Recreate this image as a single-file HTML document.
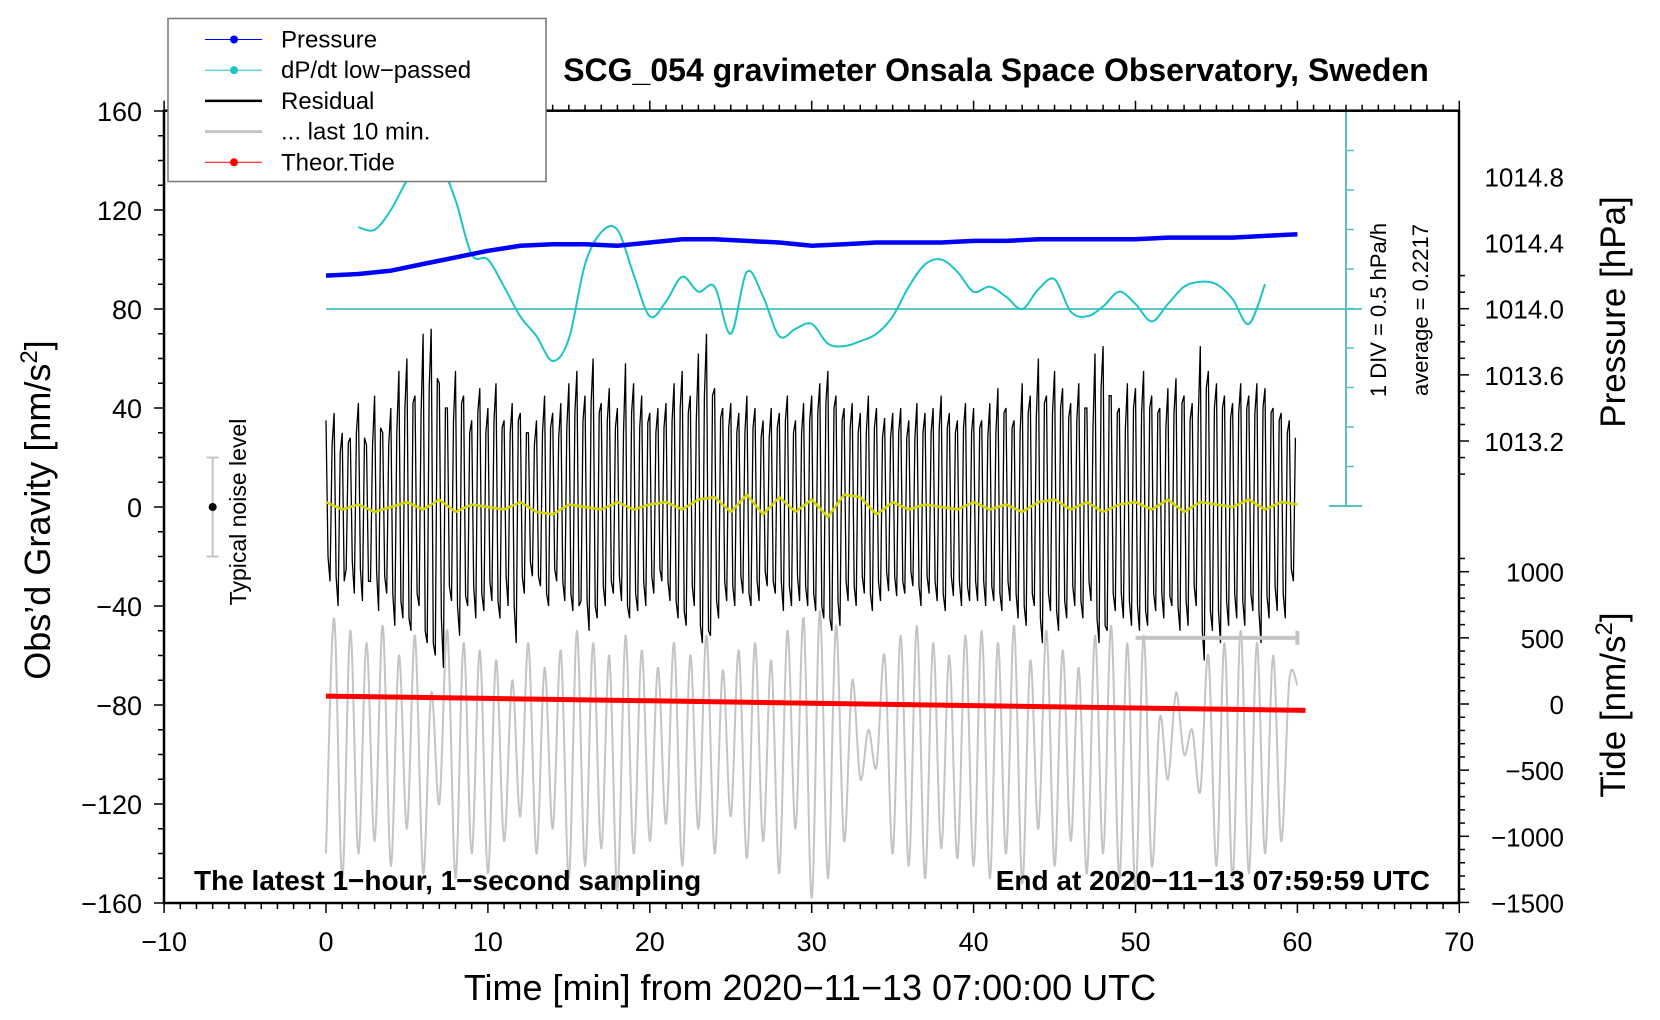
<!DOCTYPE html>
<html><head><meta charset="utf-8">
<style>
html,body{margin:0;padding:0;background:#fff;}
svg{display:block;font-family:"Liberation Sans",sans-serif;}
</style></head>
<body>
<svg id="chart" width="1660" height="1020" viewBox="0 0 1660 1020" xmlns="http://www.w3.org/2000/svg">
<rect width="1660" height="1020" fill="#fff"/>
<g id="marks"></g>
<g id="axes"></g>
</svg>
<script>
// ---- data ----
const xTicks = [-10,0,10,20,30,40,50,60,70];
const yTicks = [160,120,80,40,0,-40,-80,-120,-160];
const pressureTicks = [1014.8,1014.4,1014.0,1013.6,1013.2];
const tideTicks = [1000,500,0,-500,-1000,-1500];
// residual, every 0.25 min, nm/s^2
const residual = [35,-30,38,-40,30,-25,28,-35,42,-38,25,-30,45,-42,30,-35,40,-48,55,-45,
60,-50,45,-40,70,-55,72,-60,50,-65,40,-38,55,-52,45,-40,35,-45,48,-42,
40,-38,50,-45,35,-40,42,-55,38,-35,30,-28,35,-32,45,-40,38,-30,42,-38,
50,-42,55,-38,45,-50,60,-45,42,-40,48,-35,40,-38,58,-45,50,-42,45,-40,
38,-35,40,-30,42,-38,50,-45,55,-48,45,-40,62,-55,70,-52,48,-45,40,-38,
42,-40,38,-35,45,-40,40,-38,35,-32,40,-35,38,-42,45,-40,35,-38,42,-40,
45,-42,50,-45,55,-50,45,-48,40,-38,42,-40,38,-35,45,-42,40,-38,36,-34,
38,-36,40,-35,35,-32,42,-40,38,-35,40,-38,45,-42,38,-36,35,-40,42,-38,
40,-38,35,-40,42,-38,48,-42,40,-38,35,-45,50,-48,45,-40,60,-55,45,-42,
55,-50,48,-45,42,-40,50,-45,40,-38,62,-55,65,-50,45,-42,40,-45,50,-48,
48,-50,55,-48,45,-42,40,-45,48,-40,52,-50,45,-48,42,-40,65,-62,55,-50,
50,-55,45,-48,42,-45,50,-48,45,-42,50,-55,48,-45,40,-42,38,-45,35,-30];
// secondary residual samples, interleaved (offset 0.125 min)
const residualB = [-20,25,-28,22,-30,26,-22,30,-25,28,-30,24,-26,32,-28,25,-35,30,-38,40,
-45,42,-35,38,-50,48,-55,52,-45,40,-32,35,-40,42,-36,30,-32,38,-35,30,
-30,35,-38,32,-28,30,-40,35,-28,30,-22,25,-28,30,-35,32,-25,28,-30,32,
-35,38,-40,35,-38,42,-40,38,-32,35,-30,32,-28,30,-40,38,-35,32,-30,34,
-28,30,-25,32,-30,35,-38,40,-42,38,-32,35,-48,45,-50,45,-38,36,-30,32,
-32,30,-28,30,-35,32,-30,28,-26,28,-30,32,-30,35,-32,30,-28,30,-32,35,
-35,38,-40,42,-45,40,-38,35,-30,32,-32,30,-28,30,-35,32,-30,28,-26,28,
-28,30,-30,28,-26,28,-32,30,-28,30,-30,32,-35,32,-28,30,-30,32,-32,30,
-30,32,-30,28,-32,30,-35,38,-30,32,-35,30,-40,38,-35,36,-45,42,-35,38,
-42,40,-38,36,-32,35,-38,40,-30,32,-45,48,-48,45,-35,38,-35,32,-38,40,
-40,38,-42,40,-35,38,-35,32,-36,38,-40,42,-38,35,-32,35,-50,48,-42,40,
-42,40,-38,36,-35,38,-38,40,-35,38,-42,40,-36,38,-32,35,-35,30,-25,28];
// low-passed residual (yellow), every 1 min
const smoothRes = [2,-1,1,-2,0,2,-1,3,-2,1,0,-1,2,-2,-3,1,0,-1,2,-1,1,2,-1,3,4,-2,5,-3,4,-2,3,-4,5,4,-3,2,-1,1,0,-1,2,-1,1,-2,2,3,-1,2,-2,1,2,-1,3,-2,2,1,0,3,-1,2,1];
// last-10-min trace (gray), every 0.5 min
const lastTen = [-140,-45,-150,-50,-140,-55,-135,-48,-145,-60,-130,-52,-148,-75,-120,-50,-150,-55,-140,-58,
-148,-62,-135,-70,-125,-55,-140,-65,-130,-58,-150,-50,-145,-55,-138,-60,-155,-52,-140,-58,
-135,-65,-128,-55,-145,-60,-130,-52,-140,-66,-125,-58,-142,-55,-135,-62,-148,-50,-130,-45,
-158,-42,-150,-48,-135,-70,-110,-90,-105,-60,-140,-52,-145,-48,-150,-55,-138,-60,-142,-52,
-145,-50,-150,-55,-140,-48,-152,-62,-130,-50,-145,-58,-135,-65,-148,-52,-140,-48,-150,-55,
-155,-52,-145,-85,-110,-75,-100,-90,-115,-60,-145,-55,-150,-50,-148,-55,-140,-60,-135,-70,-72];
// pressure every 2 min, hPa
const pressure = [1014.20,1014.21,1014.23,1014.27,1014.31,1014.35,1014.38,1014.39,1014.39,1014.38,1014.40,1014.42,1014.42,1014.41,1014.40,1014.38,1014.39,1014.40,1014.40,1014.40,1014.41,1014.41,1014.42,1014.42,1014.42,1014.42,1014.43,1014.43,1014.43,1014.44,1014.45];
// dP/dt low-passed, plotted on gravity scale, every 1 min from 2 min
const dpdt = [113,112,120,132,141,139,124,102,100,89,77,69,59,68,98,111,112,94,77,83,93,87,89,70,95,85,69,72,74,66,65,67,70,77,89,98,100,95,87,89,85,80,88,92,79,77,81,87,82,75,82,89,91,90,84,74,90];
// theoretical tide every 10 min, nm/s^2
const tide = [60,42,24,6,-12,-30,-48];

// ---- scales ----
const X = t => 326 + t*16.19;
const Y = g => 507 - g*2.475;
const YP = p => 308.7 - (p-1014.0)*165.4;
const YT = v => 704 - v*0.1323;
const NS = "http://www.w3.org/2000/svg";
const marks = document.getElementById('marks');
const axes = document.getElementById('axes');
function mk(tag, attrs, parent){const e=document.createElementNS(NS,tag);for(const k in attrs)e.setAttribute(k,attrs[k]);(parent||marks).appendChild(e);return e;}
function smoothPath(pts){let d='M'+pts[0][0].toFixed(1)+','+pts[0][1].toFixed(1);
 for(let i=0;i<pts.length-1;i++){const p0=pts[i-1]||pts[i],p1=pts[i],p2=pts[i+1],p3=pts[i+2]||p2;
  d+=' C'+(p1[0]+(p2[0]-p0[0])/6).toFixed(1)+','+(p1[1]+(p2[1]-p0[1])/6).toFixed(1)+' '+(p2[0]-(p3[0]-p1[0])/6).toFixed(1)+','+(p2[1]-(p3[1]-p1[1])/6).toFixed(1)+' '+p2[0].toFixed(1)+','+p2[1].toFixed(1);}
 return d;}

// gray last-10-min
let p=mk('path',{d:smoothPath(lastTen.map((v,i)=>[X(i*0.5),Y(v)])),fill:'none',stroke:'#c4c4c4','stroke-width':2});


// residual (interleave both sample sets)
const resPts=[];
residual.forEach((v,i)=>{resPts.push(X(i*0.25).toFixed(1)+','+Y(v).toFixed(1));if(i<residualB.length)resPts.push(X(i*0.25+0.125).toFixed(1)+','+Y(residualB[i]).toFixed(1));});
p=mk('polyline',{points:resPts.join(' '),fill:'none',stroke:'#000','stroke-width':1.3});


// yellow
p=mk('polyline',{points:smoothRes.map((v,i)=>X(i).toFixed(1)+','+Y(v).toFixed(1)).join(' '),fill:'none',stroke:'#d4d400','stroke-width':2.5});


// red tide
p=mk('polyline',{points:tide.map((v,i)=>X(i*10+(i==6?0.5:0)).toFixed(1)+','+YT(v).toFixed(1)).join(' '),fill:'none',stroke:'#f00','stroke-width':5});


// cyan zero line
p=mk('line',{x1:X(0),x2:1362,y1:Y(80),y2:Y(80),stroke:'#5cc8c4','stroke-width':2});


// cyan dpdt
p=mk('path',{d:smoothPath(dpdt.map((v,i)=>[X(i+2),Y(v)])),fill:'none',stroke:'#1cc4c4','stroke-width':2});


// pressure
p=mk('polyline',{points:pressure.map((v,i)=>X(i*2).toFixed(1)+','+YP(v).toFixed(1)).join(' '),fill:'none',stroke:'#0000ff','stroke-width':4.5});



// cyan dp/dt axis
mk('line',{x1:1346,x2:1346,y1:111,y2:506,stroke:'#5cc0c0','stroke-width':2},axes);
mk('line',{x1:1329,x2:1362,y1:111,y2:111,stroke:'#5cc0c0','stroke-width':2},axes);
mk('line',{x1:1329,x2:1362,y1:506,y2:506,stroke:'#5cc0c0','stroke-width':2},axes);
for(let i=1;i<10;i++){mk('line',{x1:1346,x2:1354,y1:111+i*39.5,y2:111+i*39.5,stroke:'#5cc0c0','stroke-width':1.5},axes);}

// frame
mk('rect',{x:164,y:110.7,width:1295,height:792.3,fill:'none',stroke:'#000','stroke-width':2.5},axes);
function T(x,y,s,attrs,name){const e=mk('text',Object.assign({x:x,y:y},attrs),axes);e.textContent=s;return e;}
// x ticks
for(let t=-10;t<=70;t++){const big=t%10==0;
 mk('line',{x1:X(t),x2:X(t),y1:903,y2:903+(big?10:6),stroke:'#000','stroke-width':1.5},axes);
 mk('line',{x1:X(t),x2:X(t),y1:110.7,y2:110.7-(big?10:6),stroke:'#000','stroke-width':1.5},axes);}
xTicks.forEach(t=>T(X(t),951,String(t).replace('-','\u2212'),{'font-size':27,'text-anchor':'middle'},'x-tick-label'));
// y ticks
for(let g=-160;g<=160;g+=10){const big=g%40==0;mk('line',{x1:164,x2:164-(big?10:6),y1:Y(g),y2:Y(g),stroke:'#000','stroke-width':1.5},axes);}
yTicks.forEach(g=>T(142,Y(g)+10,String(g).replace('-','\u2212'),{'font-size':27,'text-anchor':'end'},'y-tick-label'));
// pressure ticks
for(let k=0;k<=12;k++){const big=k%4==2;const y=YP(1013.2)-(k-2)*16.54;if(y<112)continue;
 mk('line',{x1:1459,x2:1459+(big?10:6),y1:y,y2:y,stroke:'#000','stroke-width':1.5},axes);}
pressureTicks.forEach(v=>T(1564,YP(v)+10,v.toFixed(1),{'font-size':26,'text-anchor':'end'},'pressure-tick-label'));
// tide ticks
for(let v=-1500;v<=1100;v+=100){const big=v%500==0;mk('line',{x1:1459,x2:1459+(big?10:6),y1:YT(v),y2:YT(v),stroke:'#000','stroke-width':1.5},axes);}
tideTicks.forEach(v=>T(1564,YT(v)+10,String(v).replace('-','\u2212'),{'font-size':26,'text-anchor':'end'},'tide-tick-label'));

// titles
T(996,81,'SCG_054 gravimeter Onsala Space Observatory, Sweden',{'font-size':32,'font-weight':'bold','text-anchor':'middle'},'chart-title');
T(810,1000,'Time [min] from 2020\u221211\u221213 07:00:00 UTC',{'font-size':36,'text-anchor':'middle'},'x-axis-title');
let e=T(0,0,'',{'font-size':36,'text-anchor':'middle',transform:'translate(50,510) rotate(-90)'},'y-axis-title');
e.innerHTML='Obs\u2019d Gravity [nm/s<tspan dy="-13" font-size="24">2</tspan><tspan dy="13">]</tspan>';
T(0,0,'Pressure [hPa]',{'font-size':35,'text-anchor':'middle',transform:'translate(1625,312) rotate(-90)'},'pressure-axis-title');
e=T(0,0,'',{'font-size':35,'text-anchor':'middle',transform:'translate(1625,705) rotate(-90)'},'tide-axis-title');
e.innerHTML='Tide [nm/s<tspan dy="-13" font-size="24">2</tspan><tspan dy="13">]</tspan>';
T(0,0,'1 DIV = 0.5 hPa/h',{'font-size':22,'text-anchor':'middle',transform:'translate(1386,310) rotate(-90)'},'dpdt-scale-label');
T(0,0,'average = 0.2217',{'font-size':22,'text-anchor':'middle',transform:'translate(1428,310) rotate(-90)'},'pressure-average-label');
T(194,890,'The latest 1\u2212hour, 1\u2212second sampling',{'font-size':28,'font-weight':'bold'},'sampling-note');
T(1430,890,'End at 2020\u221211\u221213 07:59:59 UTC',{'font-size':28,'font-weight':'bold','text-anchor':'end'},'end-time-note');

// noise level bar
mk('line',{x1:X(-7),x2:X(-7),y1:Y(20),y2:Y(-20),stroke:'#c4c4c4','stroke-width':2},axes);
mk('line',{x1:X(-7)-6,x2:X(-7)+6,y1:Y(20),y2:Y(20),stroke:'#c4c4c4','stroke-width':2},axes);
mk('line',{x1:X(-7)-6,x2:X(-7)+6,y1:Y(-20),y2:Y(-20),stroke:'#c4c4c4','stroke-width':2},axes);
mk('circle',{cx:X(-7),cy:Y(0),r:4,fill:'#000'},axes);
T(0,0,'Typical noise level',{'font-size':23,'text-anchor':'middle',transform:'translate(246,512) rotate(-90)'},'noise-level-label');
// last 10 min bar
mk('line',{x1:X(50),x2:X(60),y1:YT(500),y2:YT(500),stroke:'#c4c4c4','stroke-width':4},axes);
mk('line',{x1:X(60),x2:X(60),y1:YT(500)-7,y2:YT(500)+7,stroke:'#c4c4c4','stroke-width':4},axes);

// legend
const lg=mk('g',{},axes);


mk('rect',{x:168,y:18.5,width:378,height:163,fill:'#fff',stroke:'#777','stroke-width':1.5},lg);
const items=[['Pressure','#0000ff',1,true],['dP/dt low\u2212passed','#1cc4c4',1,true],['Residual','#000',2.5,false],['... last 10 min.','#c4c4c4',3,false],['Theor.Tide','#f00',1,true]];
items.forEach((it,i)=>{const y=39.5+i*30.7;
 mk('line',{x1:205,x2:262,y1:y,y2:y,stroke:it[1],'stroke-width':it[2]},lg);
 if(it[3])mk('circle',{cx:234,cy:y,r:4,fill:it[1]},lg);
 const t=mk('text',{x:281,y:y+8,'font-size':24},lg);t.textContent=it[0];
 
 });
</script>
</body></html>
